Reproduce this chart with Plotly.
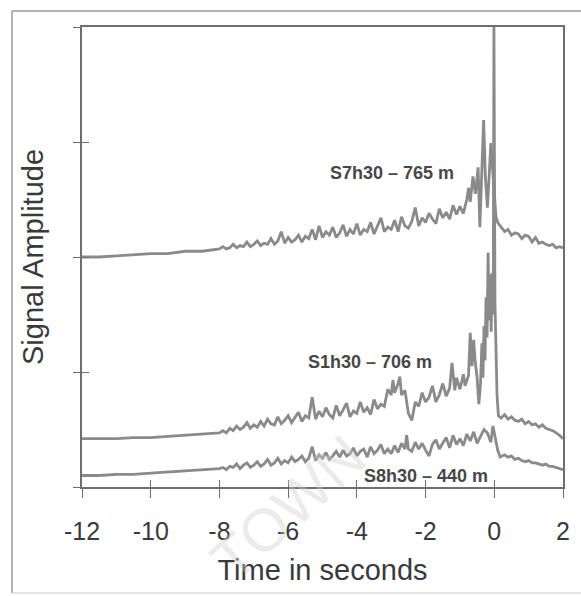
import plotly.graph_objects as go

# ---- data ----
# S7h30 - 765 m
s7_t = [-12.0,-11.5,-11.0,-10.5,-10.0,-9.5,-9.0,-8.5,
        -8.0,-7.9,-7.8,-7.7,-7.6,-7.5,-7.4,-7.3,-7.2,-7.1,
        -7.0,-6.9,-6.8,-6.7,-6.6,-6.5,-6.4,-6.3,-6.2,-6.1,
        -6.0,-5.9,-5.8,-5.7,-5.6,-5.5,-5.4,-5.3,-5.2,-5.1,
        -5.0,-4.9,-4.8,-4.7,-4.6,-4.5,-4.4,-4.3,-4.2,-4.1,
        -4.0,-3.9,-3.8,-3.7,-3.6,-3.5,-3.4,-3.3,-3.2,-3.1,
        -3.0,-2.9,-2.8,-2.7,-2.6,-2.5,-2.4,-2.3,-2.2,-2.1,
        -2.0,-1.9,-1.8,-1.7,-1.6,-1.5,-1.4,-1.3,-1.2,-1.1,
        -1.0,-0.9,-0.8,-0.75,-0.7,
        -0.62,-0.55,-0.47,-0.42,-0.36,-0.31,-0.26,-0.2,-0.15,-0.1,-0.07,-0.03,0.05,0.1,
        0.2,0.3,0.4,0.5,0.6,0.7,0.8,0.9,1.0,1.1,
        1.2,1.3,1.4,1.5,1.6,1.7,1.8,1.9,2.0]
s7_a = [2.00,2.00,2.01,2.02,2.03,2.03,2.05,2.05,
        2.07,2.09,2.07,2.08,2.11,2.08,2.10,2.09,2.13,2.09,
        2.11,2.14,2.10,2.12,2.11,2.16,2.11,2.14,2.22,2.12,
        2.17,2.13,2.15,2.19,2.13,2.18,2.16,2.24,2.15,2.27,
        2.17,2.22,2.19,2.26,2.17,2.21,2.28,2.18,2.24,2.20,
        2.29,2.19,2.24,2.22,2.30,2.20,2.27,2.34,2.22,2.26,
        2.24,2.32,2.22,2.35,2.27,2.25,2.31,2.43,2.27,2.34,
        2.30,2.38,2.33,2.29,2.42,2.34,2.39,2.33,2.45,2.37,
        2.44,2.38,2.50,2.60,2.48,
        2.70,2.55,2.78,2.26,2.80,3.19,2.70,2.43,2.70,2.99,2.85,2.65,2.35,2.30,
        2.26,2.22,2.24,2.19,2.21,2.20,2.16,2.19,2.18,2.13,
        2.17,2.12,2.13,2.11,2.10,2.11,2.08,2.09,2.08]

# S1h30 - 706 m
s1_t = [-12.0,-11.5,-11.0,-10.5,-10.0,-9.5,-9.0,-8.5,
        -8.0,-7.9,-7.8,-7.7,-7.6,-7.5,-7.4,-7.3,-7.2,-7.1,
        -7.0,-6.9,-6.8,-6.7,-6.6,-6.5,-6.4,-6.3,-6.2,-6.1,
        -6.0,-5.9,-5.8,-5.7,-5.6,-5.5,-5.4,-5.3,-5.2,-5.1,
        -5.0,-4.9,-4.8,-4.7,-4.6,-4.5,-4.4,-4.3,-4.2,-4.1,
        -4.0,-3.9,-3.8,-3.7,-3.6,-3.5,-3.4,-3.3,-3.2,-3.1,
        -3.0,-2.95,-2.9,-2.8,-2.75,-2.7,-2.6,-2.5,-2.4,-2.3,
        -2.2,-2.1,-2.0,-1.9,-1.8,-1.7,-1.6,-1.5,-1.4,-1.3,
        -1.23,-1.15,-1.1,-1.0,-0.9,-0.85,
        -0.75,-0.7,-0.65,-0.6,-0.56,-0.5,-0.45,-0.4,-0.36,-0.33,
        -0.3,-0.27,-0.24,-0.21,-0.18,-0.15,-0.12,-0.09,-0.06,-0.03,
        -0.01,0.02,0.05,0.08,0.12,
        0.2,0.3,0.4,0.5,0.6,0.7,0.8,0.9,1.0,1.1,
        1.2,1.3,1.4,1.5,1.6,1.7,1.8,1.9,2.0]
s1_a = [0.42,0.42,0.42,0.43,0.43,0.44,0.45,0.46,
        0.47,0.49,0.47,0.51,0.49,0.53,0.50,0.52,0.56,0.51,
        0.54,0.52,0.57,0.53,0.59,0.55,0.54,0.61,0.55,0.58,
        0.62,0.56,0.60,0.65,0.57,0.62,0.60,0.78,0.59,0.66,
        0.61,0.69,0.63,0.60,0.71,0.62,0.67,0.73,0.61,0.66,
        0.64,0.74,0.65,0.69,0.63,0.76,0.68,0.72,0.70,0.85,
        0.80,0.93,0.82,0.90,0.96,0.80,0.84,0.64,0.58,0.74,
        0.70,0.82,0.74,0.78,0.88,0.74,0.80,0.90,0.79,0.86,
        1.08,0.84,0.95,0.85,0.98,0.88,
        0.97,1.34,1.05,1.28,1.10,0.95,0.72,0.90,1.25,0.95,
        1.40,1.10,1.65,1.30,2.04,1.45,1.85,1.35,1.86,1.50,
        4.00,1.60,1.20,0.80,0.62,
        0.60,0.63,0.59,0.61,0.58,0.57,0.59,0.55,0.57,0.54,
        0.55,0.52,0.54,0.51,0.50,0.49,0.47,0.45,0.42]

# S8h30 - 440 m
s8_t = [-12.0,-11.5,-11.0,-10.5,-10.0,-9.5,-9.0,-8.5,
        -8.0,-7.9,-7.8,-7.7,-7.6,-7.5,-7.4,-7.3,-7.2,-7.1,
        -7.0,-6.9,-6.8,-6.7,-6.6,-6.5,-6.4,-6.3,-6.2,-6.1,
        -6.0,-5.9,-5.8,-5.7,-5.6,-5.5,-5.4,-5.3,-5.2,-5.1,
        -5.0,-4.9,-4.8,-4.7,-4.6,-4.5,-4.4,-4.3,-4.2,-4.1,
        -4.0,-3.9,-3.8,-3.7,-3.6,-3.5,-3.4,-3.3,-3.2,-3.1,
        -3.0,-2.9,-2.8,-2.7,-2.6,-2.55,-2.5,-2.4,-2.3,-2.2,
        -2.1,-2.0,-1.9,-1.8,-1.7,-1.6,-1.5,-1.4,-1.3,-1.2,
        -1.1,-1.0,-0.9,-0.8,-0.7,-0.6,-0.5,-0.4,-0.3,-0.2,
        -0.1,-0.04,0.02,0.1,0.17,
        0.3,0.4,0.5,0.6,0.7,0.8,0.9,1.0,1.1,
        1.2,1.3,1.4,1.5,1.6,1.7,1.8,1.9,2.0]
s8_a = [0.10,0.10,0.11,0.11,0.12,0.13,0.14,0.15,
        0.16,0.17,0.15,0.18,0.17,0.20,0.16,0.19,0.21,0.17,
        0.19,0.22,0.18,0.20,0.24,0.19,0.21,0.25,0.20,0.23,
        0.21,0.26,0.22,0.24,0.27,0.22,0.25,0.35,0.23,0.28,
        0.25,0.30,0.24,0.27,0.31,0.26,0.32,0.27,0.29,0.34,
        0.27,0.31,0.33,0.26,0.35,0.29,0.32,0.37,0.29,0.33,
        0.29,0.36,0.30,0.38,0.33,0.45,0.33,0.31,0.39,0.33,
        0.38,0.32,0.27,0.37,0.41,0.33,0.38,0.43,0.34,0.45,
        0.37,0.42,0.36,0.46,0.40,0.48,0.38,0.44,0.50,0.47,
        0.39,0.53,0.45,0.32,0.26,
        0.28,0.26,0.27,0.24,0.25,0.23,0.22,0.23,0.21,
        0.21,0.20,0.19,0.20,0.18,0.18,0.17,0.16,0.15]

labels = ["S7h30 \u2013 765 m", "S1h30 \u2013 706 m", "S8h30 \u2013 440 m"]
label_x = [-2.97, -3.62, -2.0]
label_y = [2.73, 1.09, 0.10]

x_ticks = [-12, -10, -8, -6, -4, -2, 0, 2]
y_ticks = [0, 1, 2, 3, 4]

# ---- figure ----
W, H = 581, 596
ML, MR, MT, MB = 82, 18, 27, 109
FONT = "Liberation Sans, Arial, sans-serif"
TRACE = "#8a8a8a"
AXC = "#6e6e6e"

fig = go.Figure()
for t, a, nm in [(s7_t, s7_a, labels[0]), (s1_t, s1_a, labels[1]), (s8_t, s8_a, labels[2])]:
    fig.add_trace(go.Scatter(x=t, y=a, mode="lines", name=nm,
                             line=dict(color=TRACE, width=2.8), showlegend=False))
# helper trace for the overlay axes (inside tick halves)
fig.add_trace(go.Scatter(x=[None], y=[None], xaxis="x2", yaxis="y2", showlegend=False, hoverinfo="skip"))

for txt, lx, ly in zip(labels, label_x, label_y):
    fig.add_annotation(x=lx, y=ly, text="<b>%s</b>" % txt, showarrow=False,
                       font=dict(family=FONT, size=18, color="#474747"))

pw = W - ML - MR
ph = H - MT - MB
def px_to_paper_x(p): return (p - ML) / pw
def px_to_paper_y(p): return (H - MB - p) / ph

# watermark
fig.add_annotation(x=px_to_paper_x(288), y=px_to_paper_y(508), xref="paper", yref="paper",
                   xanchor="center", yanchor="middle",
                   text="TOWN", showarrow=False, textangle=-42,
                   font=dict(family=FONT, size=60, color="rgba(205,205,205,0.4)"))

# outer frame (left, top, bottom edges)
fx0, fx1 = px_to_paper_x(12), px_to_paper_x(581)
fy0, fy1 = px_to_paper_y(593), px_to_paper_y(11)
for x0, y0, x1, y1, c in [(fx0, fy0, fx0, fy1, "#9a9a9a"), (fx0, fy1, fx1, fy1, "#9a9a9a"),
                          (fx0, fy0, fx1, fy0, "#dcdcdc")]:
    fig.add_shape(type="line", xref="paper", yref="paper", x0=x0, y0=y0, x1=x1, y1=y1,
                  line=dict(color=c, width=1.5), layer="below")

axis_common = dict(showgrid=False, zeroline=False)
fig.update_layout(
    width=W, height=H, margin=dict(l=ML, r=MR, t=MT, b=MB),
    paper_bgcolor="white", plot_bgcolor="white",
    font=dict(family=FONT, color="#3a3a3a"),
    xaxis=dict(range=[-12, 2], tickvals=x_ticks, ticktext=[str(v) for v in x_ticks],
               ticks="outside", ticklen=9, tickcolor=AXC, tickwidth=1.3,
               showline=True, linecolor=AXC, linewidth=1.5, mirror=True,
               tickfont=dict(size=25, color="#3a3a3a"), ticklabelstandoff=12,
               title=dict(text="Time in seconds", font=dict(size=29, color="#3a3a3a"), standoff=16),
               **axis_common),
    yaxis=dict(range=[0, 4], tickvals=y_ticks, showticklabels=False,
               ticks="outside", ticklen=7, tickcolor=AXC, tickwidth=1.3,
               showline=True, linecolor=AXC, linewidth=1.5, mirror=True,
               title=dict(text="Signal Amplitude", font=dict(size=29, color="#3a3a3a"), standoff=21),
               **axis_common),
    xaxis2=dict(range=[-12, 2], tickvals=x_ticks, showticklabels=False, overlaying="x", anchor="y2",
                side="bottom", ticks="inside", ticklen=7, tickcolor=AXC, tickwidth=1.3,
                showline=False, **axis_common),
    yaxis2=dict(range=[0, 4], tickvals=y_ticks, showticklabels=False, overlaying="y", anchor="x2",
                side="left", ticks="inside", ticklen=7, tickcolor=AXC, tickwidth=1.3,
                showline=False, **axis_common),
)

fig.write_html("out.html")
